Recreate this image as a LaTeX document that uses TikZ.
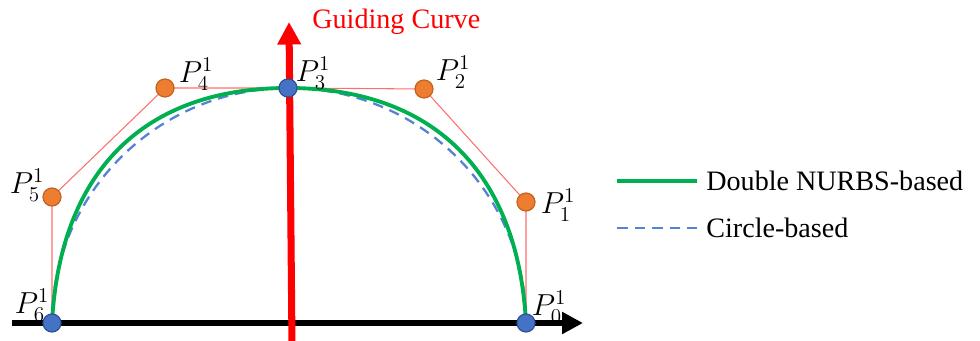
\documentclass[tikz,border=0pt]{standalone}
\usepackage{fontspec}
\setmainfont{Liberation Serif}
\usetikzlibrary{arrows.meta}

\definecolor{ptorange}{RGB}{237,125,49}
\definecolor{ptorangedark}{RGB}{196,98,32}
\definecolor{ptblue}{RGB}{68,114,196}
\definecolor{ptbluedark}{RGB}{47,82,150}
\definecolor{nurbsgreen}{RGB}{0,176,80}
\definecolor{circblue}{RGB}{86,130,212}
\definecolor{polyred}{RGB}{255,110,110}

\begin{document}
\begin{tikzpicture}[
    x=0.02cm, y=-0.02cm,
    ctrl/.style={circle, draw=ptorangedark, fill=ptorange, line width=0.7pt, minimum size=0.36cm, inner sep=0pt},
    knot/.style={circle, draw=ptbluedark, fill=ptblue, line width=0.7pt, minimum size=0.36cm, inner sep=0pt},
    lbl/.style={font=\fontsize{16}{19}\selectfont, inner sep=0pt},
    ptlbl/.style={font=\fontsize{17}{20}\selectfont, inner sep=0pt},
    poly/.style={draw=polyred, line width=0.6pt},
    nurbs/.style={draw=nurbsgreen, line width=2.2pt},
    circ/.style={draw=circblue, line width=1.3pt, dash pattern=on 6pt off 4pt},
    axis/.style={-{Triangle[length=0.42cm, width=0.42cm]}, line width=3.2pt},
    guide/.style={-{Triangle[length=0.45cm, width=0.45cm]}, draw=red, line width=4pt}
]
\useasboundingbox (0,0) rectangle (980,341);

% Positions
\coordinate (c0) at (526,323);
\coordinate (c1) at (526,202);
\coordinate (c2) at (424,89);
\coordinate (c3) at (288,88);
\coordinate (c4) at (165,88);
\coordinate (c5) at (52,197);
\coordinate (c6) at (52,323);

% Control polygon
\draw[poly] (c6) -- (c5) -- (c4) -- (c3) -- (c2) -- (c1) -- (c0);

% Circle-based curve
\draw[circ] (c6) arc[start angle=180, end angle=360, x radius=237, y radius=235];

% Double NURBS curve
\draw[nurbs] (c6) .. controls (60,172) and (143,88) .. (c3) .. controls (433,88) and (518,172) .. (c0);

% Axes
\coordinate (axstart) at (12,323);
\coordinate (axend) at (583,323);
\draw[axis] (axstart) -- (axend);
\coordinate (gbot) at (292,345);
\coordinate (gtop) at (289,22);
\draw[guide] (gbot) -- (gtop);
\node[lbl, text=red, anchor=west] (guidelbl) at (312,22) {Guiding Curve};

% Points
\node[knot] (p0) at (c0) {};
\node[ctrl] (p1) at (c1) {};
\node[ctrl] (p2) at (c2) {};
\node[knot] (p3) at (c3) {};
\node[ctrl] (p4) at (c4) {};
\node[ctrl] (p5) at (c5) {};
\node[knot] (p6) at (c6) {};

\node[ptlbl] (p0lbl) at (549,307) {$P_0^1$};
\node[ptlbl] (p1lbl) at (558,205) {$P_1^1$};
\node[ptlbl] (p2lbl) at (453,72) {$P_2^1$};
\node[ptlbl] (p3lbl) at (313,73) {$P_3^1$};
\node[ptlbl] (p4lbl) at (196,74) {$P_4^1$};
\node[ptlbl] (p5lbl) at (27,185) {$P_5^1$};
\node[ptlbl] (p6lbl) at (32,305) {$P_6^1$};

% Legend
\coordinate (lg1a) at (617,181);
\coordinate (lg1b) at (697,181);
\draw[nurbs, line width=2.8pt] (lg1a) -- (lg1b);
\node[lbl, anchor=west] (lg1) at (706,181) {Double NURBS-based};
\coordinate (lg2a) at (617,228);
\coordinate (lg2b) at (697,228);
\draw[circ] (lg2a) -- (lg2b);
\node[lbl, anchor=west] (lg2) at (706,228) {Circle-based};

\end{tikzpicture}
\end{document}
